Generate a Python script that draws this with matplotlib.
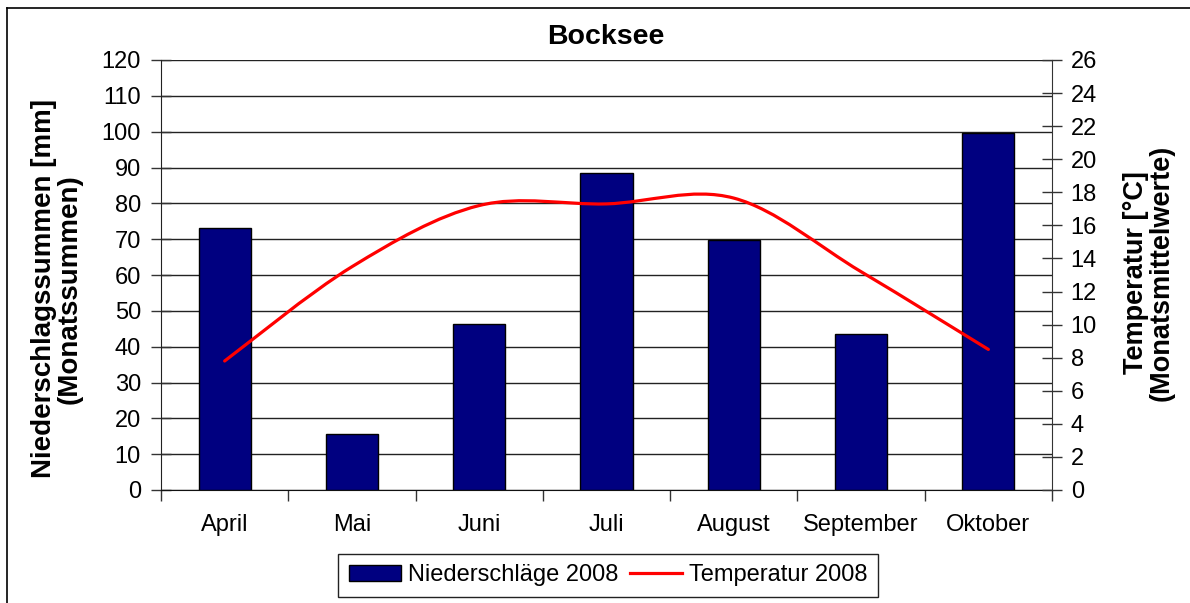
import matplotlib
matplotlib.use("Agg")
import matplotlib.pyplot as plt
import numpy as np
from matplotlib.path import Path
from matplotlib.patches import PathPatch
from matplotlib.lines import Line2D

plt.rcParams['font.family'] = ['Liberation Sans', 'DejaVu Sans']

months = ["April", "Mai", "Juni", "Juli", "August", "September", "Oktober"]
precip = [73.0, 15.7, 46.2, 88.6, 69.8, 43.6, 99.7]
temp = [7.8, 13.5, 17.2, 17.3, 17.65, 13.2, 8.5]
left_ticks = list(range(0, 121, 10))
right_ticks = list(range(0, 27, 2))

W, H = 1190, 603
fig = plt.figure(figsize=(W / 100, H / 100), dpi=100)
fig.patch.set_facecolor('white')

L, R, T, B = 161, 1052, 60, 490
ax = fig.add_axes([L / W, 1 - B / H, (R - L) / W, (B - T) / H])
ax2 = ax.twinx()

x = np.arange(len(months))
bars = ax.bar(x, precip, width=0.41, color='#000080', edgecolor='black',
              linewidth=1.0, zorder=3, label='Niederschläge 2008')

ax.set_xlim(-0.5, len(months) - 0.5)
ax.set_ylim(0, 120)
ax.set_yticks(left_ticks)
ax.set_xticks(x)
ax.set_xticklabels(months, fontsize=17)
ax.set_xticks(np.arange(-0.5, len(months), 1.0), minor=True)
ax.tick_params(axis='x', which='major', length=0, pad=17.5)
ax.tick_params(axis='x', which='minor', length=8, width=1, color='#333333', direction='out')
ax.tick_params(axis='y', which='major', labelsize=17, length=15, width=1,
               direction='inout', pad=7, color='#333333')
ax.grid(axis='y', color='#222222', linewidth=1, zorder=0)
ax.set_axisbelow(True)
for s in ['top', 'right']:
    ax.spines[s].set_visible(False)
ax.spines['left'].set_color('#222222')
ax.spines['bottom'].set_color('#111111')

# temperature, smoothed line via Bezier path
ax2.set_ylim(0, 26)
ax2.set_yticks(right_ticks)
ax2.tick_params(axis='y', labelsize=17, length=15, width=1, direction='inout',
                pad=6, color='#333333')
for s in ['top', 'left', 'bottom']:
    ax2.spines[s].set_visible(False)
ax2.spines['right'].set_color('#333333')

pts = np.column_stack([x.astype(float), np.array(temp)])
ext = np.vstack([pts[0], pts, pts[-1]])
verts = [tuple(pts[0])]
codes = [Path.MOVETO]
for i in range(len(pts) - 1):
    p0, p1, p2, p3 = ext[i], ext[i + 1], ext[i + 2], ext[i + 3]
    c1 = p1 + (p2 - p0) / 6.0
    c2 = p2 - (p3 - p1) / 6.0
    verts += [tuple(c1), tuple(c2), tuple(p2)]
    codes += [Path.CURVE4] * 3
patch = PathPatch(Path(verts, codes), facecolor='none', edgecolor='#ff0000',
                  linewidth=2.3, capstyle='round', joinstyle='round', zorder=4)
ax2.add_patch(patch)

fig.text(606 / W, 1 - 37 / H, "Bocksee", ha='center', va='center',
         fontsize=20.5, fontweight='bold')

fig.text(57 / W, 1 - 289 / H, "Niederschlagssummen [mm]\n(Monatssummen)",
         ha='center', va='center', rotation=90, fontsize=20,
         fontweight='bold', linespacing=1.0, multialignment='center')
fig.text(1149 / W, 1 - 273 / H, "Temperatur [°C]\n(Monatsmittelwerte)",
         ha='center', va='center', rotation=90, fontsize=19.5,
         fontweight='bold', linespacing=1.0, multialignment='center')

handles = [bars, Line2D([0], [0], color='#ff0000', linewidth=2.3)]
leg = fig.legend(handles, ['Niederschläge 2008', 'Temperatur 2008'],
                 loc='center', bbox_to_anchor=(608 / W, 1 - 575.5 / H), ncol=2,
                 fontsize=17, frameon=True, fancybox=False, framealpha=1,
                 edgecolor='#222222', handlelength=2.2, handleheight=0.65,
                 handletextpad=0.3, columnspacing=0.5, borderpad=0.45,
                 borderaxespad=0)
leg.get_frame().set_linewidth(1.0)

# outer chart border (left and top visible)
fig.add_artist(Line2D([7 / W, 7 / W], [0, 1 - 8 / H], transform=fig.transFigure,
                      color='black', linewidth=1.2))
fig.add_artist(Line2D([7 / W, 1], [1 - 8 / H, 1 - 8 / H], transform=fig.transFigure,
                      color='black', linewidth=1.2))

fig.savefig("out.png", dpi=100, facecolor='white')
